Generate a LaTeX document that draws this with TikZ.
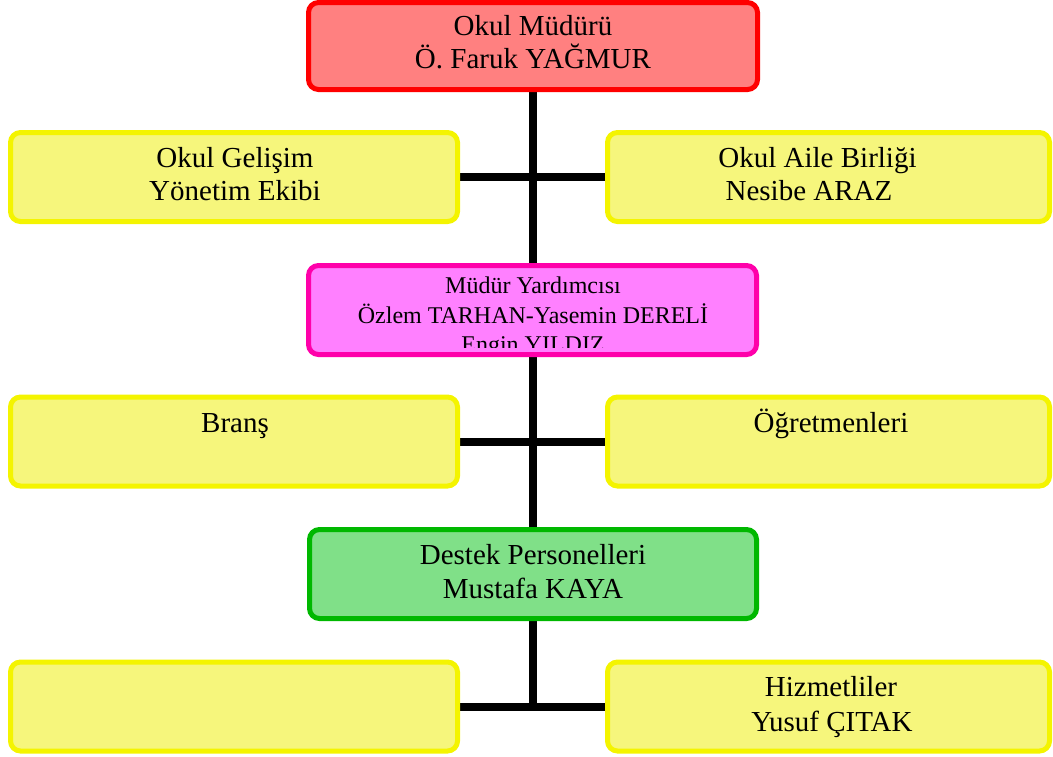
\documentclass[tikz,border=0pt]{standalone}
\usepackage{fontspec}
\setmainfont{Liberation Serif}
\definecolor{redB}{RGB}{255,0,0}
\definecolor{redF}{RGB}{255,128,128}
\definecolor{yelB}{RGB}{244,244,0}
\definecolor{yelF}{RGB}{246,246,124}
\definecolor{magB}{RGB}{255,0,170}
\definecolor{magF}{RGB}{255,128,255}
\definecolor{grnB}{RGB}{0,184,0}
\definecolor{grnF}{RGB}{128,224,136}
\pgfdeclarelayer{bg}
\pgfsetlayers{bg,main}
\tikzset{
  box/.style={rectangle, rounded corners=10pt, line width=5pt, inner sep=0pt, outer sep=0pt},
  redbox/.style={box, draw=redB, fill=redF, minimum width=449pt, minimum height=87pt},
  magbox/.style={box, draw=magB, fill=magF, minimum width=448pt, minimum height=89pt},
  grnbox/.style={box, draw=grnB, fill=grnF, minimum width=447pt, minimum height=89pt},
  ybox/.style={box, draw=yelB, fill=yelF, minimum width=447pt, minimum height=89pt},
  yboxr/.style={box, draw=yelB, fill=yelF, minimum width=442pt, minimum height=89pt},
  txt/.style={anchor=base, inner sep=0pt, font=\fontsize{29}{33}\selectfont},
  stxt/.style={anchor=base, inner sep=0pt, font=\fontsize{24}{29}\selectfont},
  conn/.style={draw=black, line width=8pt}
}
\begin{document}
\begin{tikzpicture}[x=1pt,y=-1pt]
\useasboundingbox (0,0) rectangle (1053,756);
% boxes
\node[redbox] (mud) at (533,46) {};
\node[ybox] (ogy) at (234,177) {};
\node[yboxr] (oab) at (828.5,177) {};
\node[magbox] (my) at (532.5,310) {};
\node[ybox] (brs) at (234,441.5) {};
\node[yboxr] (ogr) at (828.5,441.5) {};
\node[grnbox] (dp) at (533,574) {};
\node[ybox] (bos) at (234,706.5) {};
\node[yboxr] (hiz) at (828.5,706.5) {};
% connectors
\begin{pgfonlayer}{bg}
\coordinate (bot) at (mud.south |- bos.east);
\draw[conn] (mud.south) -- (bot);
\draw[conn] (ogy.east) -- (oab.west);
\draw[conn] (brs.east) -- (ogr.west);
\draw[conn] (bos.east) -- (hiz.west);
\end{pgfonlayer}
% texts
\node[txt] (t1a) at (533,35) {Okul Müdürü};
\node[txt] (t1b) at (533,68) {Ö. Faruk YAĞMUR};
\node[txt] (t2a) at (235,167) {Okul Gelişim};
\node[txt] (t2b) at (235,200) {Yönetim Ekibi};
\node[txt] (t3a) at (817.5,167) {Okul Aile Birliği};
\node[txt] (t3b) at (809,200) {Nesibe ARAZ};
\begin{scope}
\clip (310,268) rectangle (756,347.5);
\node[stxt] (t4a) at (533,293) {Müdür Yardımcısı};
\node[stxt] (t4b) at (533,323) {Özlem TARHAN-Yasemin DERELİ};
\node[stxt] (t4c) at (533,352) {Engin YILDIZ};
\end{scope}
\node[txt] (t5) at (235,432) {Branş};
\node[txt] (t6) at (831,432) {Öğretmenleri};
\node[txt] (t7a) at (533,564) {Destek Personelleri};
\node[txt] (t7b) at (533,598) {Mustafa KAYA};
\node[txt] (t8a) at (831,696) {Hizmetliler};
\node[txt] (t8b) at (832,731) {Yusuf ÇITAK};
\end{tikzpicture}
\end{document}
